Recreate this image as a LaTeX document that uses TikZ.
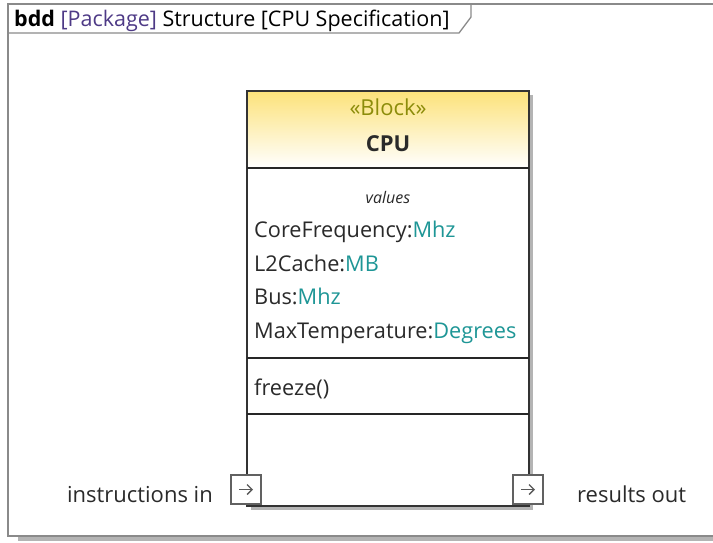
\documentclass[tikz,border=0pt]{standalone}
\usepackage{fontspec}
\setmainfont{Open Sans}
\usetikzlibrary{arrows.meta}
\definecolor{framegray}{HTML}{8A8A8A}
\definecolor{shadowgray}{HTML}{B4B4B4}
\definecolor{hdryellow}{HTML}{FCE27A}
\definecolor{stereo}{HTML}{8C8C0A}
\definecolor{typeteal}{HTML}{1E9696}
\definecolor{pkgpurple}{HTML}{4E3A86}
\definecolor{txt}{HTML}{2A2A2A}
\tikzset{
  lbl/.style={inner sep=0pt, text=txt, font=\fontsize{22}{24}\selectfont},
  vallbl/.style={lbl, anchor=base west, font=\fontsize{21.7}{24}\selectfont},
  portbox/.style={draw=framegray!70!black, line width=1.3pt, fill=white, minimum width=30pt, minimum height=29pt, inner sep=0pt},
  portarrow/.style={black!65, line width=1.3pt, -{Straight Barb[length=5pt,width=10pt]}},
  sep/.style={line width=1.4pt, draw=black!85},
}
\begin{document}
\begin{tikzpicture}[x=1pt,y=-1pt]
\useasboundingbox (0,0) rectangle (713,542);
% frame shadow and frame
\fill[shadowgray] (18,536) rectangle (720,541);
\draw[framegray, line width=1.8pt] (720,4) -- (8,4) -- (8,536) -- (720,536);
\draw[framegray, line width=1.3pt] (8,33) -- (459,33) -- (471,17) -- (471,4);
\node[anchor=base west, inner sep=0pt, font=\fontsize{21.5}{23}\selectfont] (title) at (14,26)
  {\textbf{bdd} \textcolor{pkgpurple}{[Package]} Structure [CPU Specification]};
% block
\fill[shadowgray] (251,95) rectangle (533,510);
\node[draw=none, fill=white, minimum width=282pt, minimum height=415pt, inner sep=0pt] (cpu) at (388,298.5) {};
\shade[top color=hdryellow, bottom color=white] (247,91) rectangle (529,168);
\draw[black!80, line width=1.4pt] (247,91) rectangle (529,506);
\draw[sep] (247,168) -- (529,168);
\draw[sep] (247,358) -- (529,358);
\draw[sep] (247,414) -- (529,414);
\node[lbl, anchor=base, text=stereo] (stereotype) at (388,115) {«Block»};
\node[lbl, anchor=base, font=\fontsize{22}{24}\selectfont\bfseries] (name) at (388,151) {CPU};
\node[lbl, anchor=base, font=\fontsize{16}{18}\selectfont\itshape] (valhdr) at (388,203) {values};
\node[vallbl] (v1) at (254,237) {CoreFrequency:\textcolor{typeteal}{Mhz}};
\node[vallbl] (v2) at (254,271) {L2Cache:\textcolor{typeteal}{MB}};
\node[vallbl] (v3) at (254,304) {Bus:\textcolor{typeteal}{Mhz}};
\node[vallbl] (v4) at (254,338) {MaxTemperature:\textcolor{typeteal}{Degrees}};
\node[vallbl] (op1) at (254,395) {freeze()};
% ports
\node[portbox] (pin) at (246,489.5) {};
\node[portbox] (pout) at (528,489.5) {};
\draw[portarrow] ([xshift=-7pt]pin.center) -- ([xshift=7pt]pin.center);
\draw[portarrow] ([xshift=-7pt]pout.center) -- ([xshift=7pt]pout.center);
\node[lbl, anchor=base east] (inlbl) at (213,502) {instructions in};
\node[lbl, anchor=base west] (outlbl) at (577,502) {results out};
\end{tikzpicture}
\end{document}
